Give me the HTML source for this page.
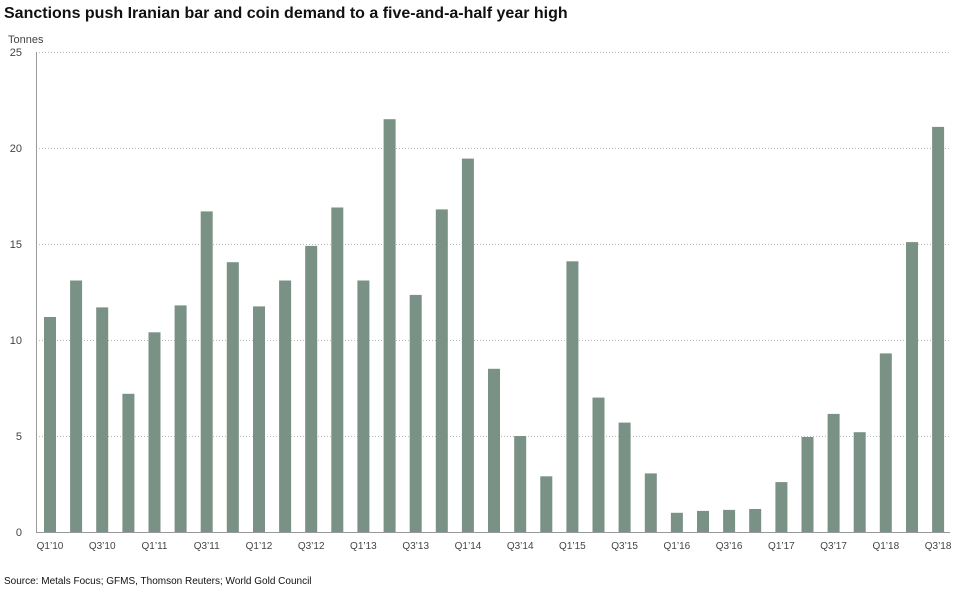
<!DOCTYPE html>
<html><head><meta charset="utf-8"><style>
body{margin:0;background:#fff;width:958px;height:588px;overflow:hidden;font-family:"Liberation Sans",Arial,sans-serif}
</style></head><body>
<svg width="958" height="588" xmlns="http://www.w3.org/2000/svg" font-family="Liberation Sans, Arial, sans-serif">
<text x="4" y="18" font-size="16" font-weight="bold" fill="#111">Sanctions push Iranian bar and coin demand to a five-and-a-half year high</text>
<text x="8" y="43" font-size="11" fill="#444">Tonnes</text>
<g stroke="#bbb" stroke-dasharray="1,2" stroke-width="1">
<line x1="36" x2="950" y1="52.5" y2="52.5"/><line x1="36" x2="950" y1="148.5" y2="148.5"/>
<line x1="36" x2="950" y1="244.5" y2="244.5"/><line x1="36" x2="950" y1="340.5" y2="340.5"/>
<line x1="36" x2="950" y1="436.5" y2="436.5"/>
</g>
<line x1="36.5" x2="36.5" y1="52" y2="532" stroke="#999"/>
<line x1="36" x2="950" y1="532.5" y2="532.5" stroke="#999"/>
<g font-size="11" fill="#444" text-anchor="end">
<text x="22" y="56">25</text><text x="22" y="152">20</text><text x="22" y="248">15</text>
<text x="22" y="344">10</text><text x="22" y="440">5</text><text x="22" y="536">0</text>
</g>
<g fill="#7a9186">
<rect x="44.0" y="317.0" width="12" height="215.0"/>
<rect x="70.1" y="280.5" width="12" height="251.5"/>
<rect x="96.2" y="307.4" width="12" height="224.6"/>
<rect x="122.4" y="393.8" width="12" height="138.2"/>
<rect x="148.5" y="332.3" width="12" height="199.7"/>
<rect x="174.6" y="305.4" width="12" height="226.6"/>
<rect x="200.7" y="211.4" width="12" height="320.6"/>
<rect x="226.8" y="262.2" width="12" height="269.8"/>
<rect x="253.0" y="306.4" width="12" height="225.6"/>
<rect x="279.1" y="280.5" width="12" height="251.5"/>
<rect x="305.2" y="245.9" width="12" height="286.1"/>
<rect x="331.3" y="207.5" width="12" height="324.5"/>
<rect x="357.4" y="280.5" width="12" height="251.5"/>
<rect x="383.6" y="119.2" width="12" height="412.8"/>
<rect x="409.7" y="294.9" width="12" height="237.1"/>
<rect x="435.8" y="209.4" width="12" height="322.6"/>
<rect x="461.9" y="158.6" width="12" height="373.4"/>
<rect x="488.0" y="368.8" width="12" height="163.2"/>
<rect x="514.2" y="436.0" width="12" height="96.0"/>
<rect x="540.3" y="476.3" width="12" height="55.7"/>
<rect x="566.4" y="261.3" width="12" height="270.7"/>
<rect x="592.5" y="397.6" width="12" height="134.4"/>
<rect x="618.6" y="422.6" width="12" height="109.4"/>
<rect x="644.8" y="473.4" width="12" height="58.6"/>
<rect x="670.9" y="512.8" width="12" height="19.2"/>
<rect x="697.0" y="510.9" width="12" height="21.1"/>
<rect x="723.1" y="509.9" width="12" height="22.1"/>
<rect x="749.2" y="509.0" width="12" height="23.0"/>
<rect x="775.4" y="482.1" width="12" height="49.9"/>
<rect x="801.5" y="437.0" width="12" height="95.0"/>
<rect x="827.6" y="413.9" width="12" height="118.1"/>
<rect x="853.7" y="432.2" width="12" height="99.8"/>
<rect x="879.8" y="353.4" width="12" height="178.6"/>
<rect x="906.0" y="242.1" width="12" height="289.9"/>
<rect x="932.1" y="126.9" width="12" height="405.1"/>
</g>
<g font-size="10" fill="#444" text-anchor="middle">
<text x="50" y="549">Q1’10</text><text x="102.2" y="549">Q3’10</text>
<text x="154.5" y="549">Q1’11</text><text x="206.7" y="549">Q3’11</text>
<text x="259" y="549">Q1’12</text><text x="311.2" y="549">Q3’12</text>
<text x="363.4" y="549">Q1’13</text><text x="415.7" y="549">Q3’13</text>
<text x="468" y="549">Q1’14</text><text x="520.2" y="549">Q3’14</text>
<text x="572.4" y="549">Q1’15</text><text x="624.6" y="549">Q3’15</text>
<text x="676.9" y="549">Q1’16</text><text x="729.1" y="549">Q3’16</text>
<text x="781.4" y="549">Q1’17</text><text x="833.6" y="549">Q3’17</text>
<text x="885.8" y="549">Q1’18</text><text x="938.1" y="549">Q3’18</text>
</g>
<text x="4" y="584" font-size="10" fill="#111">Source: Metals Focus; GFMS, Thomson Reuters; World Gold Council</text>
</svg>
</body></html>
